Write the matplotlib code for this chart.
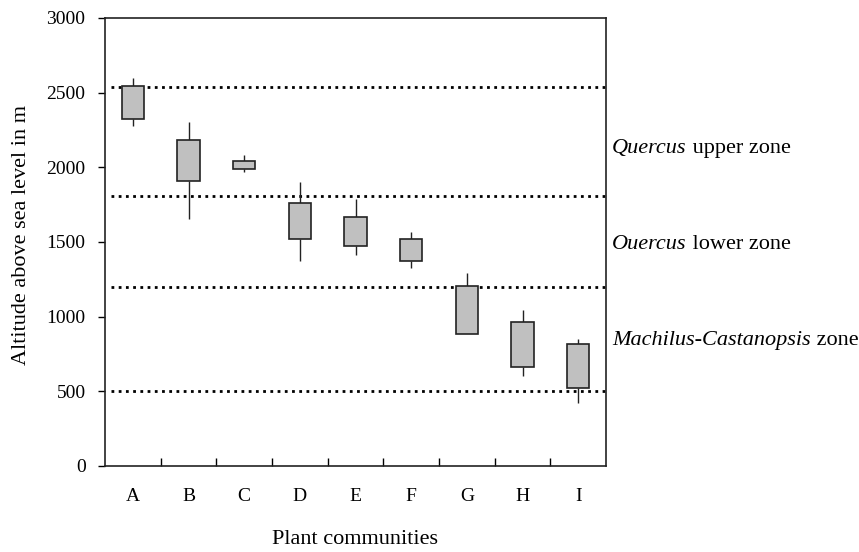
import matplotlib
matplotlib.use("Agg")
import matplotlib.pyplot as plt
from matplotlib.ticker import FixedLocator

# plant communities and altitude ranges (m)
communities = ["A", "B", "C", "D", "E", "F", "G", "H", "I"]
whisker_low = [2275, 1655, 1970, 1375, 1415, 1325, 885, 600, 420]
box_low = [2325, 1910, 1990, 1520, 1475, 1375, 885, 665, 525]
box_high = [2545, 2180, 2045, 1760, 1665, 1520, 1205, 965, 820]
whisker_high = [2600, 2305, 2085, 1905, 1785, 1565, 1290, 1045, 850]

# zone boundaries and names
zone_lines = [500, 1200, 1810, 2540]
zone_names = [("Quercus", " upper zone", 2125),
              ("Ouercus", " lower zone", 1480),
              ("Machilus-Castanopsis", " zone", 840)]

plt.rcParams['font.family'] = ['Liberation Serif', 'DejaVu Serif']

W, H = 859, 552
fig = plt.figure(figsize=(W / 100, H / 100), dpi=100)
ax = fig.add_axes([105 / W, 1 - 466 / H, (606 - 105) / W, (466 - 18) / H])

x = list(range(1, len(communities) + 1))

for y in zone_lines:
    ax.hlines(y, 0.6, 9.5, colors="black", linestyles=(0, (1, 1.6)), linewidth=2.0, zorder=1)

for i in range(len(x)):
    ax.vlines(x[i], whisker_low[i], box_low[i], colors="#222222", linewidth=1.0, zorder=2)
    ax.vlines(x[i], box_high[i], whisker_high[i], colors="#222222", linewidth=1.0, zorder=2)

ax.bar(x, [h - l for l, h in zip(box_low, box_high)], bottom=box_low, width=0.4,
       color="#c0c0c0", edgecolor="#222222", linewidth=1.2, zorder=3)

ax.set_xlim(0.5, 9.5)
ax.set_ylim(0, 3000)
ax.set_yticks(range(0, 3001, 500))
ax.set_xticks(x)
ax.set_xticklabels(communities)
ax.xaxis.set_minor_locator(FixedLocator([i + 0.5 for i in x[:-1]]))
ax.tick_params(axis="x", which="major", length=0, pad=16, labelsize=14)
ax.tick_params(axis="x", which="minor", direction="in", length=6, width=1)
ax.tick_params(axis="y", direction="out", length=5, width=1, pad=9, labelsize=14)

for s in ax.spines.values():
    s.set_linewidth(1.2)
    s.set_color("#222222")

fig.text(22 / W, 1 - 235 / H, "Altitude above sea level in m", rotation=90,
         ha="center", va="center", fontsize=16)
fig.text(355 / W, 1 - 540 / H, "Plant communities", ha="center", va="center", fontsize=16)

for italic, rest, y in zone_names:
    t = ax.text(9.61, y, italic, style="italic", fontsize=16, va="center", ha="left")
    fig.canvas.draw()
    bb = t.get_window_extent()
    inv = ax.transData.inverted()
    x_end = inv.transform((bb.x1, bb.y0))[0]
    ax.text(x_end, y, rest, fontsize=16, va="center", ha="left")

fig.savefig("out.png", dpi=100)
